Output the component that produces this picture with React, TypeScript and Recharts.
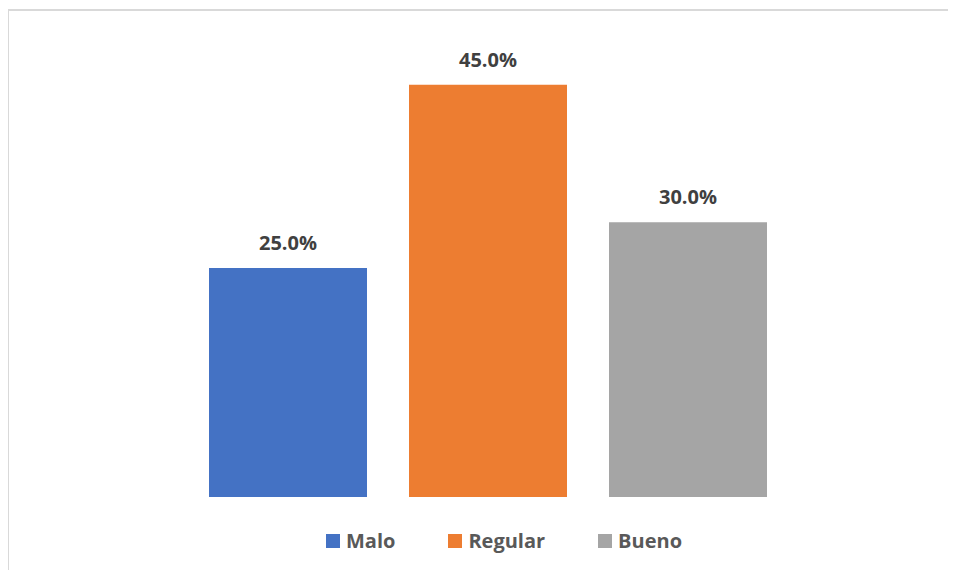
import React from 'react';
import { BarChart, Bar, XAxis, YAxis, Legend, LabelList } from 'recharts';

const categories = [''];
const malo = [25];
const regular = [45];
const bueno = [30];

const seriesNames = ['Malo', 'Regular', 'Bueno'];
const seriesColors = ['#4472C4', '#ED7D31', '#A5A5A5'];
const seriesKeys = ['malo', 'regular', 'bueno'];

const data = categories.map((c, i) => ({
  name: c,
  malo: malo[i],
  regular: regular[i],
  bueno: bueno[i],
}));

const font = '"Open Sans", sans-serif';

const fmt = (v: any) => `${Number(v).toFixed(1)}%`;

const LegendContent = () => (
  <div style={{ display: 'flex', justifyContent: 'center', alignItems: 'center', paddingLeft: 52 }}>
    {seriesNames.map((n, i) => (
      <div key={n} style={{ display: 'flex', alignItems: 'center', marginRight: i < 2 ? 53 : 0 }}>
        <span style={{ width: 14, height: 14, background: seriesColors[i], display: 'inline-block', marginRight: 6 }} />
        <span style={{ fontFamily: font, fontWeight: 700, fontSize: 20, color: '#595959' }}>{n}</span>
      </div>
    ))}
  </div>
);

export default function App() {
  return (
    <div style={{ position: 'relative', margin: -8, width: 956, height: 578, overflow: 'hidden', background: '#fff' }}>
      <div
        style={{
          position: 'absolute',
          left: 7,
          top: 9,
          width: 960,
          height: 580,
          borderTop: '2px solid #d9d9d9',
          borderLeft: '2px solid #d9d9d9',
          boxSizing: 'border-box',
        }}
      />
      <div style={{ position: 'absolute', left: 0, top: 0 }}>
        <BarChart
          width={956}
          height={578}
          data={data}
          margin={{ top: 39, right: 0, left: 20, bottom: 53 }}
          barSize={158}
          barGap={42}
        >
          <XAxis dataKey="name" hide />
          <YAxis hide domain={[0, 50]} />
          <Legend
            content={<LegendContent />}
            wrapperStyle={{ top: 527, left: 0, width: 956, height: 28 }}
          />
          {seriesKeys.map((k, i) => (
            <Bar key={k} dataKey={k} name={seriesNames[i]} fill={seriesColors[i]} isAnimationActive={false}>
              <LabelList
                dataKey={k}
                position="top"
                offset={18}
                formatter={fmt}
                style={{ fontFamily: font, fontWeight: 700, fontSize: 20, fill: '#404040' }}
              />
            </Bar>
          ))}
        </BarChart>
      </div>
    </div>
  );
}
